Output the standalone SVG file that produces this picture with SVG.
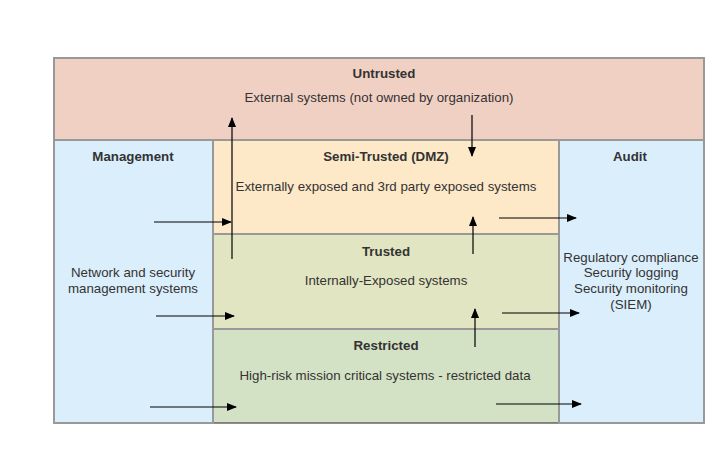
<svg xmlns="http://www.w3.org/2000/svg" width="722" height="464" viewBox="0 0 722 464">
<defs>
<marker id="ah" markerWidth="10" markerHeight="8" refX="9" refY="4" orient="auto" markerUnits="userSpaceOnUse">
<path d="M0,0 L10,4 L0,8 Z" fill="#000"/>
</marker>
<style>
.box{stroke:#999;stroke-width:2}
.t{font-family:"Liberation Sans",Arial,sans-serif;font-size:13.3px;fill:#333;text-anchor:middle}
.b{font-weight:bold}
.c{stroke:#000;stroke-width:1.2;fill:none;marker-end:url(#ah)}
</style>
</defs>
<rect width="722" height="464" fill="#fff"/>
<g id="untrusted">
<rect class="box" x="54" y="58" width="650" height="82" fill="#f1d0c4"/>
<text class="t b" x="384" y="78">Untrusted</text>
<text class="t" x="379" y="102">External systems (not owned by organization)</text>
</g>
<g id="semi-trusted">
<rect class="box" x="213" y="140" width="346" height="94" fill="#fde9c8"/>
<text class="t b" x="386" y="161">Semi-Trusted (DMZ)</text>
<text class="t" x="386" y="191">Externally exposed and 3rd party exposed systems</text>
</g>
<g id="trusted">
<rect class="box" x="213" y="234" width="346" height="95" fill="#e1e5c1"/>
<text class="t b" x="386" y="256">Trusted</text>
<text class="t" x="386" y="285">Internally-Exposed systems</text>
</g>
<g id="restricted">
<rect x="213" y="329" width="346" height="94" fill="#d3e1c5" stroke="#444" stroke-width="1.2"/>
<line x1="213" y1="329" x2="559" y2="329" stroke="#999" stroke-width="2"/>
<text class="t b" x="386" y="350">Restricted</text>
<text class="t" x="385" y="380">High-risk mission critical systems - restricted data</text>
</g>
<g id="management">
<rect class="box" x="54" y="140" width="159" height="283" fill="#dbeefb"/>
<text class="t b" x="133" y="161">Management</text>
<text class="t" x="133" y="277">Network and security</text>
<text class="t" x="133" y="293">management systems</text>
</g>
<g id="audit">
<rect class="box" x="559" y="140" width="145" height="283" fill="#dbeefb"/>
<text class="t b" x="630" y="161">Audit</text>
<text class="t" x="631" y="262">Regulatory compliance</text>
<text class="t" x="631" y="277">Security logging</text>
<text class="t" x="631" y="293">Security monitoring</text>
<text class="t" x="631" y="309">(SIEM)</text>
</g>
<g id="connectors">
<line class="c" x1="232" y1="259" x2="232" y2="118"/>
<line class="c" x1="472" y1="115" x2="472" y2="156"/>
<line class="c" x1="154" y1="222" x2="231" y2="222"/>
<line class="c" x1="473" y1="254" x2="473" y2="217"/>
<line class="c" x1="499" y1="218" x2="576" y2="218"/>
<line class="c" x1="156" y1="316" x2="234" y2="316"/>
<line class="c" x1="502" y1="313" x2="579" y2="313"/>
<line class="c" x1="475" y1="347" x2="475" y2="309"/>
<line class="c" x1="150" y1="407" x2="236" y2="407"/>
<line class="c" x1="496" y1="404" x2="581" y2="404"/>
</g>
</svg>
